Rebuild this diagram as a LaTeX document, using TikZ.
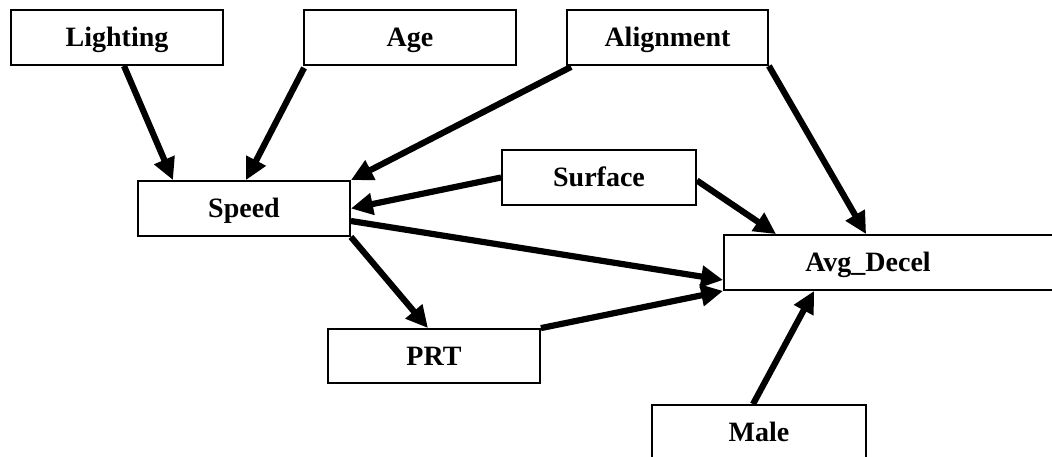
\documentclass[tikz,border=0pt]{standalone}
\usepackage{fontspec}
\setmainfont{Liberation Serif}
\usetikzlibrary{arrows.meta}
\begin{document}
\begin{tikzpicture}[x=1pt,y=-1pt,
  box/.style={draw=black, line width=1.8pt, fill=white, inner sep=0pt, minimum height=55pt,
    font=\fontsize{28}{30}\selectfont\bfseries, text height=18.5pt, text depth=0pt},
  lbl/.style={inner sep=0pt, font=\fontsize{28}{30}\selectfont\bfseries, text height=18.5pt, text depth=0pt},
  arr/.style={line width=6.2pt, -{Triangle[length=22pt,width=21pt]}}]
\useasboundingbox (0,0) rectangle (1052,456);
\clip (0,0) rectangle (1052,456);
% nodes
\node[box, minimum width=212pt] (light) at (117,37.5) {Lighting};
\node[box, minimum width=212pt] (age) at (410,37.5) {Age};
\node[box, minimum width=201pt] (align) at (667.5,37.5) {Alignment};
\node[box, minimum width=212pt] (speed) at (244,208.5) {Speed};
\node[box, minimum width=194pt] (surf) at (599,177.5) {Surface};
\node[box, minimum width=376pt] (avgbox) at (912,262.5) {};
\node[lbl] (avg) at (868,262.5) {Avg\_Decel};
\node[box, minimum width=212pt, minimum height=54pt] (prt) at (434,356) {PRT};
\node[box, minimum width=214pt] (male) at (759,432.5) {Male};
% connectors
\draw[arr] ([xshift=7pt]light.south) -- ([xshift=-71pt]speed.north);
\draw[arr] ([xshift=1pt,yshift=-2pt]age.south west) -- ([xshift=2pt]speed.north);
\draw[arr] ([xshift=5pt,yshift=-1pt]align.south west) -- (speed.north east);
\draw[arr] (align.south east) -- ([xshift=143pt]avgbox.north west);
\draw[arr] (surf.west) -- (speed.east);
\draw[arr] ([yshift=-3pt]surf.east) -- ([xshift=53pt]avgbox.north west);
\draw[arr] ([yshift=-12.5pt]speed.east) -- ([yshift=-17.5pt]avgbox.west);
\draw[arr] (speed.south east) -- ([xshift=-6pt]prt.north);
\draw[arr] (prt.north east) -- (avgbox.south west);
\draw[arr] ([xshift=-6pt]male.north) -- ([xshift=91pt]avgbox.south west);
\end{tikzpicture}
\end{document}
